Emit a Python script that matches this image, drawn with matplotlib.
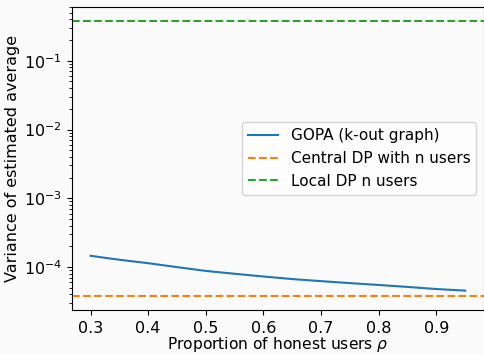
import matplotlib
matplotlib.use('Agg')
import matplotlib.pyplot as plt

# proportion of honest users and GOPA variance
rho = [0.30, 0.35, 0.40, 0.45, 0.50, 0.55, 0.60, 0.65, 0.70, 0.75, 0.80, 0.85, 0.90, 0.95]
var_gopa = [1.46e-4, 1.28e-4, 1.14e-4, 1.00e-4, 8.8e-5, 8.0e-5, 7.3e-5, 6.7e-5,
            6.25e-5, 5.85e-5, 5.5e-5, 5.15e-5, 4.8e-5, 4.55e-5]
var_central = 3.76e-5
var_local = 0.38

fig = plt.figure(figsize=(4.85, 3.54), dpi=100, facecolor='#fafafa')
ax = fig.add_axes([0.148, 0.124, 0.85, 0.856], facecolor='#fafafa')

ax.plot(rho, var_gopa, label='GOPA (k-out graph)')
ax.axhline(var_central, color='C1', linestyle='--', label='Central DP with n users')
ax.axhline(var_local, color='C2', linestyle='--', label='Local DP n users')
ax.set_yscale('log')

ax.set_xlabel(r'Proportion of honest users $\rho$', fontsize=11.2, labelpad=-1)
ax.set_ylabel('Variance of estimated average', fontsize=11.5, labelpad=3)
ax.tick_params(labelsize=11.5)
ax.tick_params(axis='x', pad=4.5)
ax.legend(loc='center right', fontsize=11)

fig.savefig('out.png', dpi=100, facecolor=fig.get_facecolor())
